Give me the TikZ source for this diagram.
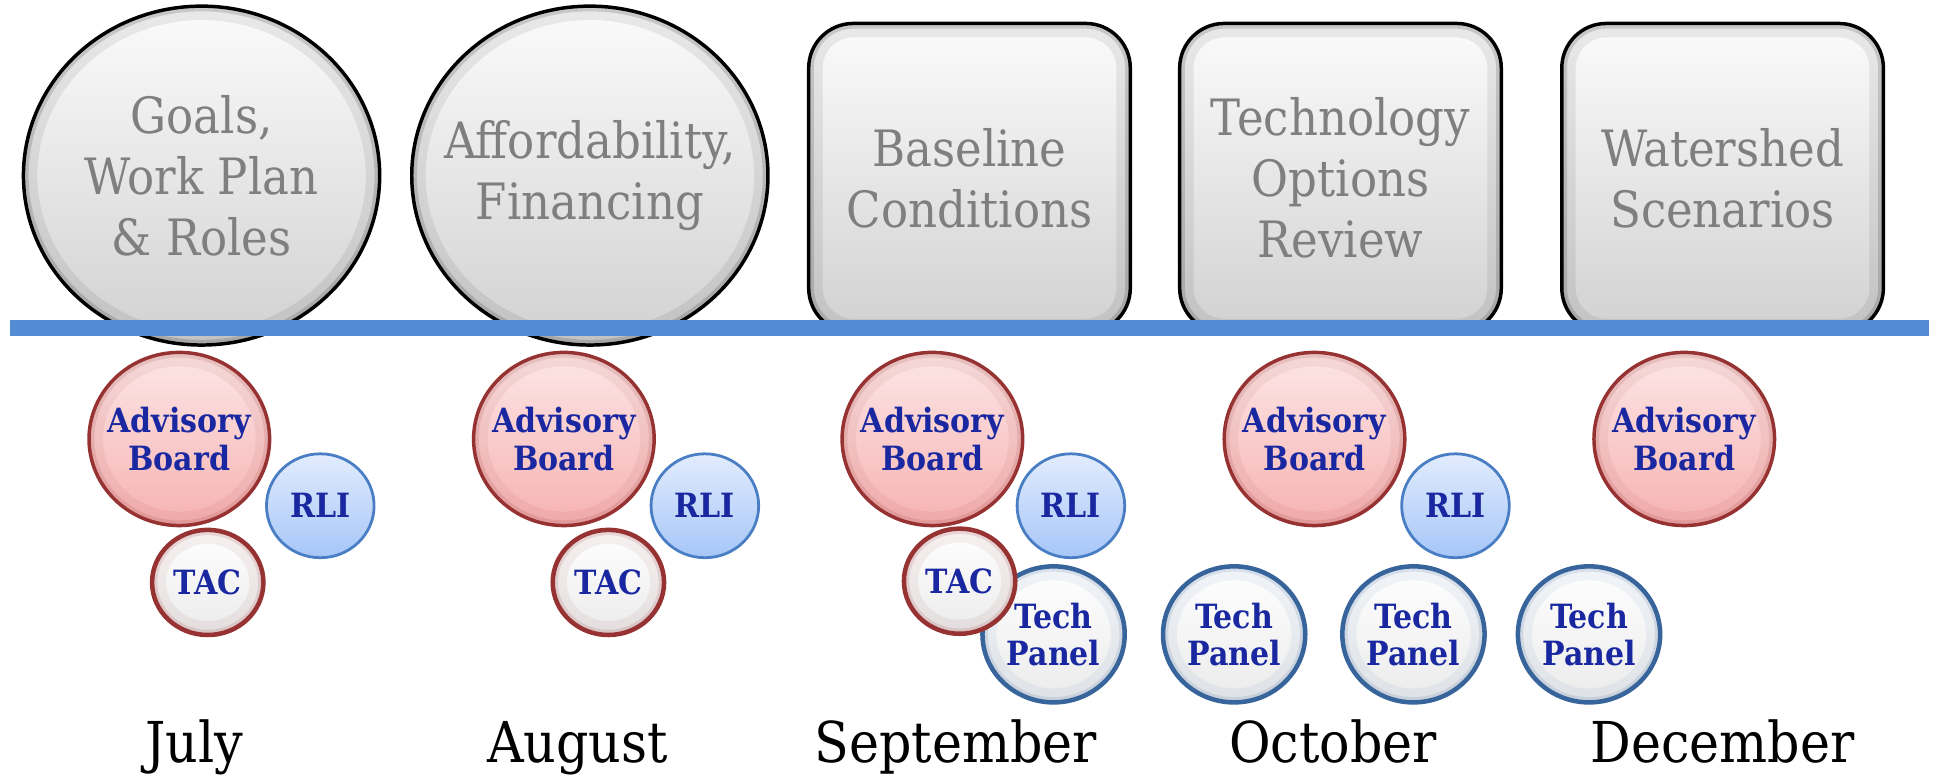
\documentclass[tikz,border=0pt]{standalone}
\usepackage{fontspec}
\usetikzlibrary{shapes.geometric,calc}
\newfontfamily\dvc{DejaVu Serif Condensed}
\definecolor{lineblue}{RGB}{83,139,213}
\definecolor{txtblue}{RGB}{25,40,160}
\definecolor{graytxt}{RGB}{127,127,127}
\definecolor{pinktop}{RGB}{253,230,230}
\definecolor{pinkbot}{RGB}{246,178,178}
\definecolor{pinkedge}{RGB}{150,50,50}
\definecolor{rlitop}{RGB}{226,236,253}
\definecolor{rlibot}{RGB}{166,198,248}
\definecolor{rliedge}{RGB}{74,126,196}
\definecolor{techedge}{RGB}{55,100,155}
\tikzset{
  ringE/.style={path picture={
    \foreach \w/\o in {8pt/0.07,3pt/0.14}{
      \draw[#1, line width=\w, opacity=\o] let \p1=($(path picture bounding box.north east)-(path picture bounding box.center)$) in (path picture bounding box.center) ellipse [x radius=\x1, y radius=\y1];}}},
  ringR/.style={path picture={
    \foreach \w/\o in {8pt/0.07,3pt/0.14}{
      \draw[#1, line width=\w, opacity=\o, rounded corners=0.45cm] (path picture bounding box.south west) rectangle (path picture bounding box.north east);}}},
  topshape/.style={top color=gray!3, bottom color=gray!36, draw=black, line width=1pt, inner sep=0pt},
  toptext/.style={text=graytxt, font=\dvc\fontsize{14.4}{17.6}\selectfont, align=center, inner sep=0pt},
  topball/.style={topshape, ellipse, minimum width=3.6cm, minimum height=3.425cm, ringE={black}},
  topbox/.style={topshape, rectangle, rounded corners=0.45cm, minimum width=3.25cm, minimum height=3.125cm, ringR={black}},
  smalltext/.style={text=txtblue, font=\dvc\bfseries\fontsize{9.6}{10.8}\selectfont, align=center, inner sep=0pt},
  smallshape/.style={ellipse, inner sep=0pt},
  advboard/.style={smallshape, top color=pinktop, bottom color=pinkbot, draw=pinkedge, line width=1pt,
    minimum width=1.825cm, minimum height=1.75cm, ringE={pinkedge}},
  rli/.style={smallshape, top color=rlitop, bottom color=rlibot, draw=rliedge, line width=0.8pt,
    minimum width=1.0875cm, minimum height=1.05cm},
  tac/.style={smallshape, top color=white, bottom color=gray!16, draw=pinkedge, line width=1.3pt,
    minimum width=1.125cm, minimum height=1.0625cm, ringE={pinkedge}},
  techpanel/.style={smallshape, top color=white, bottom color=gray!16, draw=techedge, line width=1.3pt,
    minimum width=1.4375cm, minimum height=1.375cm, ringE={techedge}},
  month/.style={font=\dvc\fontsize{16.2}{19}\selectfont, anchor=base, inner sep=0pt}
}
\begin{document}
\begin{tikzpicture}[x=0.0125cm,y=-0.0125cm]
\useasboundingbox (0,0) rectangle (1568,627);
% top phases
\node[topball] (goals) at (163,142) {};
\node[toptext] (goals-t) at (goals.center) {Goals,\\Work Plan\\\& Roles};
\node[topball] (afford) at (477,142) {};
\node[toptext] (afford-t) at (afford.center) {Affordability,\\Financing};
\node[topbox] (base) at (784,144) {};
\node[toptext] (base-t) at (base.center) {Baseline\\Conditions};
\node[topbox] (tech) at (1084,144) {};
\node[toptext] (tech-t) at (tech.center) {Technology\\Options\\Review};
\node[topbox] (water) at (1393,144) {};
\node[toptext] (water-t) at (water.center) {Watershed\\Scenarios};
% timeline
\coordinate (L0) at (8,265.5);
\coordinate (L1) at (1560,265.5);
\draw[lineblue, line width=4.6pt] (L0) -- (L1);
% July
\node[advboard] (ab1) at (145,355) {};
\node[smalltext] (ab1-t) at (ab1.center) {Advisory\\Board};
\node[rli] (rli1) at (259,409) {};
\node[smalltext] (rli1-t) at (rli1.center) {RLI};
\node[tac] (tac1) at (168,471) {};
\node[smalltext] (tac1-t) at (tac1.center) {TAC};
% August
\node[advboard] (ab2) at (456,355) {};
\node[smalltext] (ab2-t) at (ab2.center) {Advisory\\Board};
\node[rli] (rli2) at (570,409) {};
\node[smalltext] (rli2-t) at (rli2.center) {RLI};
\node[tac] (tac2) at (492,471) {};
\node[smalltext] (tac2-t) at (tac2.center) {TAC};
% September
\node[advboard] (ab3) at (754,355) {};
\node[smalltext] (ab3-t) at (ab3.center) {Advisory\\Board};
\node[rli] (rli3) at (866,409) {};
\node[smalltext] (rli3-t) at (rli3.center) {RLI};
\node[techpanel] (tp3) at (852,513) {};
\node[smalltext] (tp3-t) at (tp3.center) {Tech\\Panel};
\node[tac] (tac3) at (776,470) {};
\node[smalltext] (tac3-t) at (tac3.center) {TAC};
% October
\node[advboard] (ab4) at (1063,355) {};
\node[smalltext] (ab4-t) at (ab4.center) {Advisory\\Board};
\node[rli] (rli4) at (1177,409) {};
\node[smalltext] (rli4-t) at (rli4.center) {RLI};
\node[techpanel] (tp4a) at (998,513) {};
\node[smalltext] (tp4a-t) at (tp4a.center) {Tech\\Panel};
\node[techpanel] (tp4b) at (1143,513) {};
\node[smalltext] (tp4b-t) at (tp4b.center) {Tech\\Panel};
% December
\node[advboard] (ab5) at (1362,355) {};
\node[smalltext] (ab5-t) at (ab5.center) {Advisory\\Board};
\node[techpanel] (tp5) at (1285,513) {};
\node[smalltext] (tp5-t) at (tp5.center) {Tech\\Panel};
% months
\node[month] (m1) at (157,617) {July};
\node[month] (m2) at (467,617) {August};
\node[month] (m3) at (773,617) {September};
\node[month] (m4) at (1078,617) {October};
\node[month] (m5) at (1393,617) {December};
\end{tikzpicture}
\end{document}
